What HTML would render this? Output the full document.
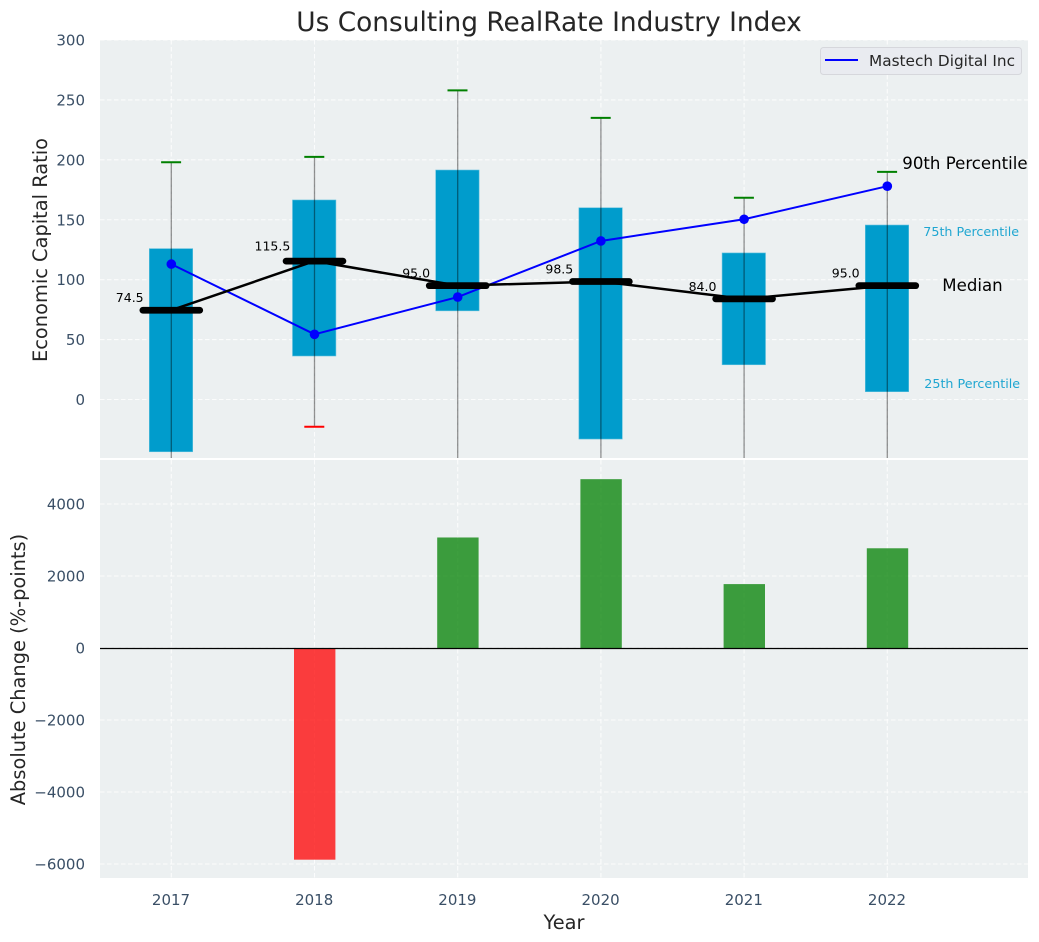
<!DOCTYPE html>
<html>
<head>
<meta charset="utf-8">
<title>Us Consulting RealRate Industry Index</title>
<style>
html,body{margin:0;padding:0;background:#fff;width:1039px;height:942px;overflow:hidden}
svg{display:block;font-family:"DejaVu Sans","Liberation Sans",sans-serif}
</style>
</head>
<body>
<svg id="chart" xmlns="http://www.w3.org/2000/svg" width="1039" height="942" viewBox="0 0 1039 942"></svg>
<script>
const years = [2017, 2018, 2019, 2020, 2021, 2022];
const p90 = [198, 202.5, 258, 235, 168.4, 190];
const p75 = [125.9, 166.5, 191.5, 160, 122.3, 145.6];
const medians = [74.5, 115.5, 95.0, 98.5, 84.0, 95.0];
const p25 = [-43.6, 36.3, 74, -33, 29, 6.5];
const p10 = [-100, -22.7, -100, -100, -100, -100];
const company = [113, 54.4, 85.5, 132.3, 150.4, 178];
const changes = [null, -5880, 3070, 4690, 1775, 2770];
const topTicks = [0, 50, 100, 150, 200, 250, 300];
const topTickLabels = ["0", "50", "100", "150", "200", "250", "300"];
const bottomTicks = [-6000, -4000, -2000, 0, 2000, 4000];
const bottomTickLabels = ["\u22126000", "\u22124000", "\u22122000", "0", "2000", "4000"];

const NS = "http://www.w3.org/2000/svg";
const svg = document.getElementById("chart");
const L = 100, R = 1028, T1 = 40, B1 = 458, T2 = 460, B2 = 878;
const xS = v => 171.3 + (v - 2017) * 143.2;
const yTop = v => 399.5 - v * 1.1983;
const yBot = v => 648 - v * 0.036;

function mk(tag, attrs, parent, text) {
  const e = document.createElementNS(NS, tag);
  for (const k in attrs) e.setAttribute(k, attrs[k]);
  if (text !== undefined) e.textContent = text;
  (parent || svg).appendChild(e);
  return e;
}
let el;

const defs = mk("defs", {});
const clip1 = mk("clipPath", {id: "clip-top"}, defs);
mk("rect", {x: L, y: T1, width: R - L, height: B1 - T1}, clip1);
const clip2 = mk("clipPath", {id: "clip-bottom"}, defs);
mk("rect", {x: L, y: T2, width: R - L, height: B2 - T2}, clip2);

el = mk("rect", {x: L, y: T1, width: R - L, height: B1 - T1, fill: "#ecf0f1"});


el = mk("rect", {x: L, y: T2, width: R - L, height: B2 - T2, fill: "#ecf0f1"});



const gTop = mk("g", {"clip-path": "url(#clip-top)"});


const gBot = mk("g", {"clip-path": "url(#clip-bottom)"});



const gridStyle = {stroke: "#ffffff", "stroke-width": 1.1, "stroke-dasharray": "4.5 2.5", "stroke-opacity": 0.8};

topTicks.forEach(t => {
  el = mk("line", Object.assign({x1: L, x2: R, y1: yTop(t), y2: yTop(t)}, gridStyle), gTop);
  
  
});
bottomTicks.forEach(t => {
  el = mk("line", Object.assign({x1: L, x2: R, y1: yBot(t), y2: yBot(t)}, gridStyle), gBot);
  
  
});
years.forEach(y => {
  el = mk("line", Object.assign({x1: xS(y), x2: xS(y), y1: T1, y2: B1}, gridStyle), gTop);
  
  
  el = mk("line", Object.assign({x1: xS(y), x2: xS(y), y1: T2, y2: B2}, gridStyle), gBot);
  
  
});

/* boxes */
years.forEach((y, i) => {
  el = mk("rect", {x: xS(y) - 22, width: 43.4, y: yTop(p75[i]), height: yTop(p25[i]) - yTop(p75[i]), fill: "#009ccc", stroke: "#5fc0dd", "stroke-width": 0.6}, gTop);
  
  
});
/* whiskers and caps */
years.forEach((y, i) => {
  el = mk("line", {x1: xS(y), x2: xS(y), y1: yTop(p90[i]), y2: yTop(p10[i]), stroke: "#000", "stroke-opacity": 0.42, "stroke-width": 1.3}, gTop);
  
  
  el = mk("line", {x1: xS(y) - 10.2, x2: xS(y) + 9.8, y1: yTop(p90[i]), y2: yTop(p90[i]), stroke: "#008000", "stroke-width": 2}, gTop);
  
  
  el = mk("line", {x1: xS(y) - 10.2, x2: xS(y) + 9.8, y1: yTop(p10[i]), y2: yTop(p10[i]), stroke: "#ff0000", "stroke-width": 2}, gTop);
  
  
});
/* company line */
el = mk("polyline", {points: years.map((y, i) => xS(y) + "," + yTop(company[i])).join(" "), fill: "none", stroke: "#0000ff", "stroke-width": 2}, gTop);


years.forEach((y, i) => {
  el = mk("circle", {cx: xS(y), cy: yTop(company[i]), r: 4.8, fill: "#0000ff"}, gTop);
  
  
});
/* median line */
el = mk("polyline", {points: years.map((y, i) => xS(y) + "," + yTop(medians[i])).join(" "), fill: "none", stroke: "#000", "stroke-width": 2.5}, gTop);


years.forEach((y, i) => {
  el = mk("line", {x1: xS(y) - 28.4, x2: xS(y) + 28.4, y1: yTop(medians[i]), y2: yTop(medians[i]), stroke: "#000", "stroke-width": 6.8, "stroke-linecap": "round"}, gTop);
  
  
  const txt = medians[i].toFixed(1);
  el = mk("text", {x: xS(y) - (txt.length > 4 ? 60 : 55.5), y: yTop(medians[i]) - (txt.length > 4 ? 10.5 : 8), "font-size": 12.5, fill: "#000"}, svg, txt);
  
  
});

/* bottom bars */
years.forEach((y, i) => {
  if (changes[i] === null) return;
  const v = changes[i];
  el = mk("rect", {x: xS(y) - 20.5, width: 41.4, y: Math.min(yBot(v), yBot(0)), height: Math.abs(yBot(v) - yBot(0)), fill: v >= 0 ? "#008000" : "#ff0000", "fill-opacity": 0.75}, gBot);
  
  
});
el = mk("line", {x1: L, x2: R, y1: yBot(0) + 0.5, y2: yBot(0) + 0.5, stroke: "#000", "stroke-width": 1.2}, gBot);



/* ticks */
const tickColor = "#3a4f66";
const tickSize = 15;
topTicks.forEach((t, i) => {
  el = mk("text", {x: 85, y: yTop(t) + 5.5, "text-anchor": "end", "font-size": tickSize, fill: tickColor}, svg, topTickLabels[i]);
  
  
});
bottomTicks.forEach((t, i) => {
  el = mk("text", {x: 85, y: yBot(t) + 5.5, "text-anchor": "end", "font-size": tickSize, fill: tickColor}, svg, bottomTickLabels[i]);
  
  
});
years.forEach(y => {
  el = mk("text", {x: xS(y) - 0.3, y: 905, "text-anchor": "middle", "font-size": tickSize, fill: tickColor}, svg, String(y));
  
  
});

/* titles */
el = mk("text", {x: 549, y: 31, "text-anchor": "middle", "font-size": 26.4, fill: "#262626"}, svg, "Us Consulting RealRate Industry Index");


el = mk("text", {x: 564, y: 929, "text-anchor": "middle", "font-size": 19.4, fill: "#262626"}, svg, "Year");


el = mk("text", {transform: "translate(47,250) rotate(-90)", "text-anchor": "middle", "font-size": 19.4, fill: "#262626"}, svg, "Economic Capital Ratio");


el = mk("text", {transform: "translate(25,669.5) rotate(-90)", "text-anchor": "middle", "font-size": 19.4, fill: "#262626"}, svg, "Absolute Change (%-points)");



/* percentile annotations anchored to the last year */
const last = years.length - 1;
const xLast = xS(years[last]);
el = mk("text", {x: xLast + 15, y: yTop(p90[last]) - 3, "font-size": 16.6, fill: "#000"}, svg, "90th Percentile");


el = mk("text", {x: xLast + 36, y: yTop(p75[last]) + 11, "font-size": 12.7, fill: "#1fa6d1"}, svg, "75th Percentile");


el = mk("text", {x: xLast + 37, y: yTop(p25[last]) - 3.5, "font-size": 12.7, fill: "#1fa6d1"}, svg, "25th Percentile");


el = mk("text", {x: xLast + 55, y: yTop(medians[last]) + 5.5, "font-size": 16.6, fill: "#000"}, svg, "Median");



/* legend */
const legend = mk("g", {});


el = mk("rect", {x: 820.5, y: 47.5, width: 201, height: 27, rx: 3, fill: "#e9ebf0", stroke: "#d6d7dc", "stroke-width": 1}, legend);


el = mk("line", {x1: 825, x2: 858, y1: 60, y2: 60, stroke: "#0000ff", "stroke-width": 2}, legend);


el = mk("text", {x: 869, y: 66, "font-size": 15.3, fill: "#262626"}, legend, "Mastech Digital Inc");


</script>
</body>
</html>
